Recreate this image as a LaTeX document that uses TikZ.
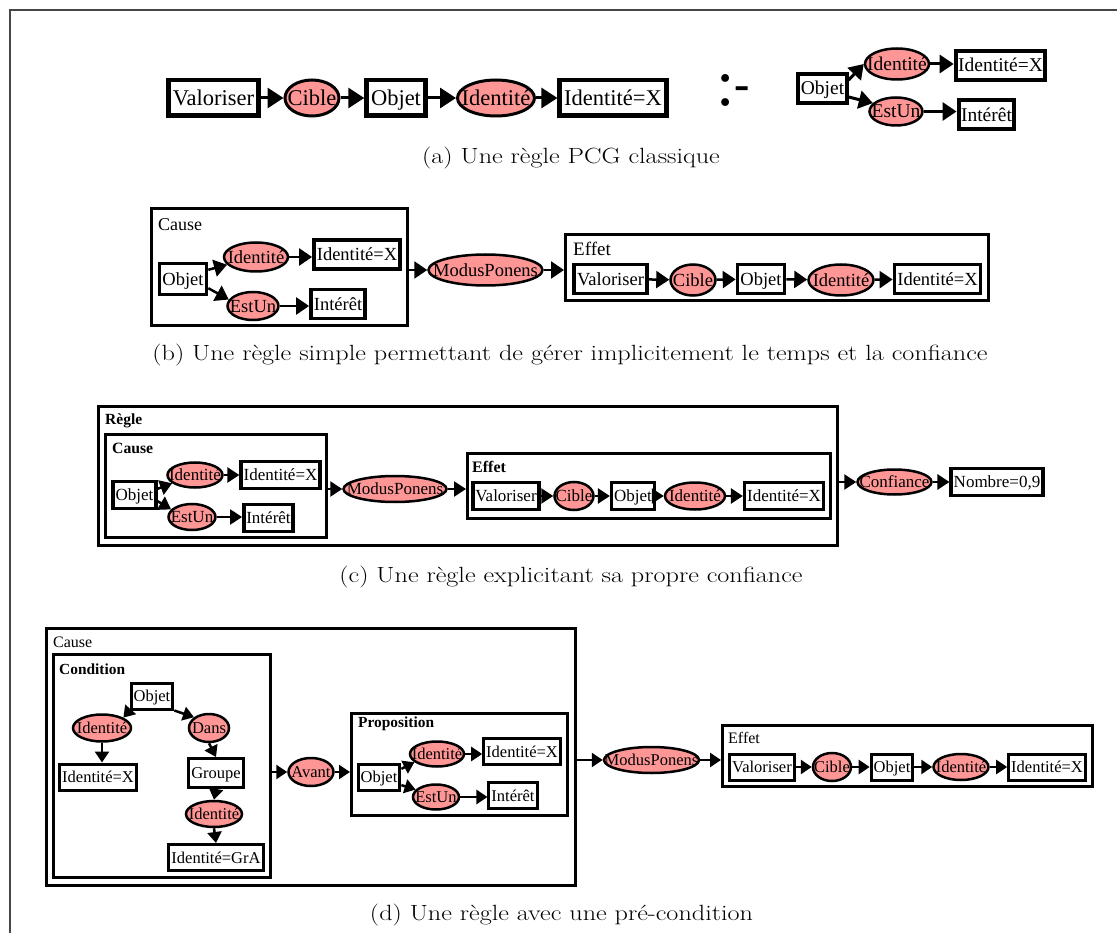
\documentclass[tikz,border=0pt]{standalone}
\usepackage{fontspec}
\usepackage{graphicx}
\newfontfamily\tms{Liberation Serif}
\usetikzlibrary{arrows.meta,shapes.geometric}
\definecolor{pk}{RGB}{255,150,150}
\definecolor{frm}{RGB}{70,70,70}
\newcommand\fsA{\fontsize{22.5}{26}\selectfont\tms}
\newcommand\fsAr{\fontsize{19.5}{23}\selectfont\tms}
\newcommand\fsB{\fontsize{18.5}{22}\selectfont\tms}
\newcommand\fsC{\fontsize{17}{20}\selectfont\tms}
\newcommand\fsD{\fontsize{16.5}{19}\selectfont\tms}
\newcommand\fsCap{\fontsize{22}{26}\selectfont}
\newcommand\ez[1]{\makebox[0pt]{#1}}
\newcommand\capt[1]{\scalebox{1.19}[1]{#1}}
\begin{document}
\begin{tikzpicture}[x=1pt,y=-1pt,
  bxA/.style={draw,line width=4.5pt,fill=white,font=\fsA,inner xsep=4.5pt,inner ysep=0pt,minimum height=35.5pt,text height=16.5pt,text depth=1.5pt},
  elA/.style={ellipse,draw,line width=3pt,fill=pk,font=\fsA,inner sep=0pt,minimum height=36pt,text height=16.5pt,text depth=1.5pt},
  bxAr/.style={draw,line width=4pt,fill=white,font=\fsAr,inner xsep=2.5pt,inner ysep=0pt,minimum height=29pt,text height=14.3pt,text depth=1.3pt},
  elAr/.style={ellipse,draw,line width=2.5pt,fill=pk,font=\fsAr,inner sep=0pt,text height=14.3pt,text depth=1.3pt},
  bxB/.style={draw,line width=3.5pt,fill=white,font=\fsB,inner xsep=3pt,inner ysep=0pt,minimum height=29pt,text height=13.6pt,text depth=1.2pt},
  elB/.style={ellipse,draw,line width=2.5pt,fill=pk,font=\fsB,inner sep=0pt,text height=13.6pt,text depth=1.2pt},
  bxC/.style={draw,line width=3.5pt,fill=white,font=\fsC,inner xsep=2.5pt,inner ysep=0pt,minimum height=27pt,text height=12.5pt,text depth=1.1pt},
  elC/.style={ellipse,draw,line width=2.5pt,fill=pk,font=\fsC,inner sep=0pt,text height=12.5pt,text depth=1.1pt},
  bxD/.style={draw,line width=3pt,fill=white,font=\fsD,inner xsep=2.5pt,inner ysep=0pt,minimum height=26pt,text height=12.1pt,text depth=1.1pt},
  elD/.style={ellipse,draw,line width=2.5pt,fill=pk,font=\fsD,inner sep=0pt,text height=12.1pt,text depth=1.1pt},
  grp/.style={draw,line width=3pt,fill=white,inner sep=0pt},
  lbl/.style={anchor=west,inner sep=0pt},
  arA/.style={-{Triangle[length=16pt,width=20pt]},line width=3pt},
  arAr/.style={-{Triangle[length=14pt,width=18pt]},line width=3pt},
  arB/.style={-{Triangle[length=13pt,width=17pt]},line width=2.5pt},
  arC/.style={-{Triangle[length=12pt,width=15pt]},line width=2.5pt},
  arD/.style={-{Triangle[length=11pt,width=14pt]},line width=2.5pt},
  captext/.style={font=\fsCap,inner sep=0pt}]
\useasboundingbox (0,0) rectangle (1117,933);
\fill[white] (0,0) rectangle (1117,933);
\draw[line width=2pt,frm] (10,933) -- (10,10) -- (1117,10);

% ---------- (a)
\node[bxA] (vaA) at (213.5,98) {Valoriser};
\node[elA,minimum width=54pt] (ciA) at (312,98) {\ez{Cible}};
\node[bxA] (obA) at (396,98) {Objet};
\node[elA,minimum width=77pt] (idA) at (496,98) {\ez{Identité}};
\node[bxA] (ixA) at (613,98) {Identité=X};
\draw[arA] (vaA) -- (ciA);
\draw[arA] (ciA) -- (obA);
\draw[arA] (obA) -- (idA);
\draw[arA] (idA) -- (ixA);
\node[anchor=base west,inner sep=0pt,font=\tms] (nk) at (716,106) {{\fontsize{66}{66}\selectfont :}\kern0pt\raisebox{6pt}{\fontsize{46}{46}\selectfont\bfseries -}};

\node[bxAr] (obA2) at (822.5,88.5) {Objet};
\node[elAr,minimum width=64pt,minimum height=31pt] (idA2) at (897,64) {\ez{Identité}};
\node[bxAr] (ixA2) at (1000.5,65.5) {Identité=X};
\node[elAr,minimum width=53pt,minimum height=28pt] (esA2) at (896,111.5) {\ez{EstUn}};
\node[bxAr] (inA2) at (986.5,115) {Intérêt};
\draw[arAr] (obA2.18) -- (idA2.west);
\draw[arAr] (obA2.-18) -- (esA2.160);
\draw[arAr] (idA2.east) -- (idA2.east -| ixA2.west);
\draw[arAr] (esA2.east) -- (esA2.east -| inA2.west);
\node[captext] (capA) at (571,158) {\capt{(a) Une règle PCG classique}};

% ---------- (b)
\node[grp,minimum width=256pt,minimum height=117pt] (causeB) at (279.5,267) {};
\node[lbl,font=\fontsize{18}{20}\selectfont\tms] (causeBl) at (158,225) {Cause};
\node[bxB,minimum height=31pt] (obB) at (183,279) {Objet};
\node[elB,minimum width=64pt,minimum height=29pt] (idB) at (256,257) {\ez{Identité}};
\node[bxB] (ixB) at (357,254.5) {Identité=X};
\node[elB,minimum width=51pt,minimum height=28pt] (esB) at (253,306) {\ez{EstUn}};
\node[bxB] (inB) at (338,304) {Intérêt};
\draw[arB] (obB.20) -- (idB.195);
\draw[arB] (obB.-20) -- (esB.165);
\draw[arB] (idB.east) -- (idB.east -| ixB.west);
\draw[arB] (esB.east) -- (esB.east -| inB.west);
\node[elB,minimum width=114pt,minimum height=31pt] (mpB) at (485.5,270) {\ez{ModusPonens}};
\node[grp,minimum width=423pt,minimum height=66pt] (effB) at (777,267.5) {};
\node[lbl,font=\fontsize{19}{21}\selectfont\tms] (effBl) at (573,249) {Effet};
\node[bxB] (vaB) at (610.5,279) {Valoriser};
\node[elB,minimum width=45pt,minimum height=31pt] (ciB) at (693,280) {\ez{Cible}};
\node[bxB] (obB2) at (761,279) {Objet};
\node[elB,minimum width=65pt,minimum height=31pt] (idB2) at (841,280) {\ez{Identité}};
\node[bxB] (ixB2) at (937.5,279) {Identité=X};
\draw[arB] (causeB.east |- mpB.west) -- (mpB.west);
\draw[arB] (mpB.east) -- (mpB.east -| effB.west);
\draw[arB] (vaB) -- (ciB);
\draw[arB] (ciB) -- (obB2);
\draw[arB] (obB2) -- (idB2);
\draw[arB] (idB2) -- (ixB2);
\node[captext] (capB) at (570,355) {\capt{(b) Une règle simple permettant de gérer implicitement le temps et la confiance}};

% ---------- (c)
\node[grp,minimum width=739pt,minimum height=139pt] (regC) at (468,476) {};
\node[lbl,font=\fontsize{15.5}{18}\selectfont\tms\bfseries] (regCl) at (105,421) {Règle};
\node[grp,minimum width=221pt,minimum height=103pt] (causeC) at (216,486) {};
\node[lbl,font=\fontsize{15.7}{18}\selectfont\tms\bfseries] (causeCl) at (112,448) {Cause};
\node[bxC] (obC) at (134.5,495) {Objet};
\node[elC,minimum width=55pt,minimum height=25pt] (idC) at (195,475) {\ez{Identité}};
\node[bxC] (ixC) at (280.5,475) {Identité=X};
\node[elC,minimum width=47pt,minimum height=26pt] (esC) at (192,517) {\ez{EstUn}};
\node[bxC] (inC) at (268.5,518) {Intérêt};
\draw[arC] (obC.15) -- (idC.200);
\draw[arC] (obC.-15) -- (esC.160);
\draw[arC] (idC.east) -- (idC.east -| ixC.west);
\draw[arC] (esC.east) -- (esC.east -| inC.west);
\node[elC,minimum width=103pt,minimum height=26pt] (mpC) at (395,489) {\ez{ModusPonens}};
\node[grp,minimum width=363pt,minimum height=65pt] (effC) at (649,486) {};
\node[lbl,font=\fontsize{16}{18}\selectfont\tms\bfseries] (effCl) at (472,467) {Effet};
\node[bxC] (vaC) at (506,496) {Valoriser};
\node[elC,minimum width=39pt,minimum height=28pt] (ciC) at (574,496) {\ez{Cible}};
\node[bxC] (obC2) at (633,496) {Objet};
\node[elC,minimum width=60pt,minimum height=27pt] (idC2) at (695,496) {\ez{Identité}};
\node[bxC] (ixC2) at (784,496) {Identité=X};
\draw[arC] (causeC.east |- mpC.west) -- (mpC.west);
\draw[arC] (mpC.east) -- (mpC.east -| effC.west);
\draw[arC] (vaC) -- (ciC);
\draw[arC] (ciC) -- (obC2);
\draw[arC] (obC2) -- (idC2);
\draw[arC] (idC2) -- (ixC2);
\node[elC,minimum width=74pt,minimum height=25pt] (cfC) at (894.5,482) {\ez{Confiance}};
\node[bxC] (nbC) at (997,482) {Nombre=0,9};
\draw[arC] (regC.east |- cfC.west) -- (cfC.west);
\draw[arC] (cfC) -- (nbC);
\node[captext] (capC) at (571,577) {\capt{(c) Une règle explicitant sa propre confiance}};

% ---------- (d)
\node[grp,minimum width=529pt,minimum height=257pt] (causeD) at (311,757) {};
\node[lbl,font=\fontsize{16}{18}\selectfont\tms] (causeDl) at (53,642) {Cause};
\node[grp,minimum width=217pt,minimum height=223pt] (condD) at (162,766) {};
\node[lbl,font=\fontsize{15.4}{18}\selectfont\tms\bfseries] (condDl) at (59,669) {Condition};
\node[bxD] (obD1) at (152,696) {Objet};
\node[elD,minimum width=58pt,minimum height=27pt] (idL) at (102,728) {\ez{Identité}};
\node[bxD] (ixL) at (98,777) {Identité=X};
\node[elD,minimum width=40pt,minimum height=28pt] (dnD) at (209,728) {\ez{Dans}};
\node[bxD,minimum height=29pt] (grD) at (216,773) {Groupe};
\node[elD,minimum width=56pt,minimum height=26pt] (id2D) at (214,814) {\ez{Identité}};
\node[bxD] (gaD) at (216,857.5) {Identité=GrA};
\draw[arD] (obD1.south west) -- (idL.north east);
\draw[arD] (obD1.south east) -- (dnD.north west);
\draw[arD] (idL.south) -- (idL.south |- ixL.north);
\draw[arD] (dnD.south) -- (grD.north);
\draw[arD] (grD.south) -- (id2D.north);
\draw[arD] (id2D.south) -- (gaD.north);
\node[elD,minimum width=45pt,minimum height=28pt] (avD) at (311,772) {\ez{Avant}};
\node[grp,minimum width=216pt,minimum height=102pt] (propD) at (459.5,764.5) {};
\node[lbl,font=\fontsize{15.4}{18}\selectfont\tms\bfseries] (propDl) at (358,724) {Proposition};
\node[bxD] (obD2) at (379,777) {Objet};
\node[elD,minimum width=54pt,minimum height=25pt] (idP) at (437,754) {\ez{Identité}};
\node[bxD] (ixP) at (522,751.5) {Identité=X};
\node[elD,minimum width=46pt,minimum height=25pt] (esP) at (436,797) {\ez{EstUn}};
\node[bxD] (inP) at (513,795.5) {Intérêt};
\draw[arD] (obD2.20) -- (idP.200);
\draw[arD] (obD2.-20) -- (esP.160);
\draw[arD] (idP.east) -- (idP.east -| ixP.west);
\draw[arD] (esP.east) -- (esP.east -| inP.west);
\draw[arD] (condD.east |- avD.west) -- (avD.west);
\draw[arD] (avD.east) -- (avD.east -| propD.west);
\node[elD,minimum width=95pt,minimum height=26pt] (mpD) at (651.5,760) {\ez{ModusPonens}};
\node[grp,minimum width=370pt,minimum height=61pt] (effD) at (907.5,756) {};
\node[lbl,font=\fontsize{16}{18}\selectfont\tms] (effDl) at (728,738) {Effet};
\node[bxD] (vaD) at (762,767) {Valoriser};
\node[elD,minimum width=38pt,minimum height=28pt] (ciD) at (832,767) {\ez{Cible}};
\node[bxD] (obD3) at (892,767) {Objet};
\node[elD,minimum width=55pt,minimum height=26pt] (idD3) at (961,767) {\ez{Identité}};
\node[bxD] (ixD3) at (1047,767) {Identité=X};
\draw[arD] (causeD.east |- mpD.west) -- (mpD.west);
\draw[arD] (mpD.east) -- (mpD.east -| effD.west);
\draw[arD] (vaD) -- (ciD);
\draw[arD] (ciD) -- (obD3);
\draw[arD] (obD3) -- (idD3);
\draw[arD] (idD3) -- (ixD3);
\node[captext] (capD) at (561.5,915) {\capt{(d) Une règle avec une pré-condition}};
\end{tikzpicture}
\end{document}
